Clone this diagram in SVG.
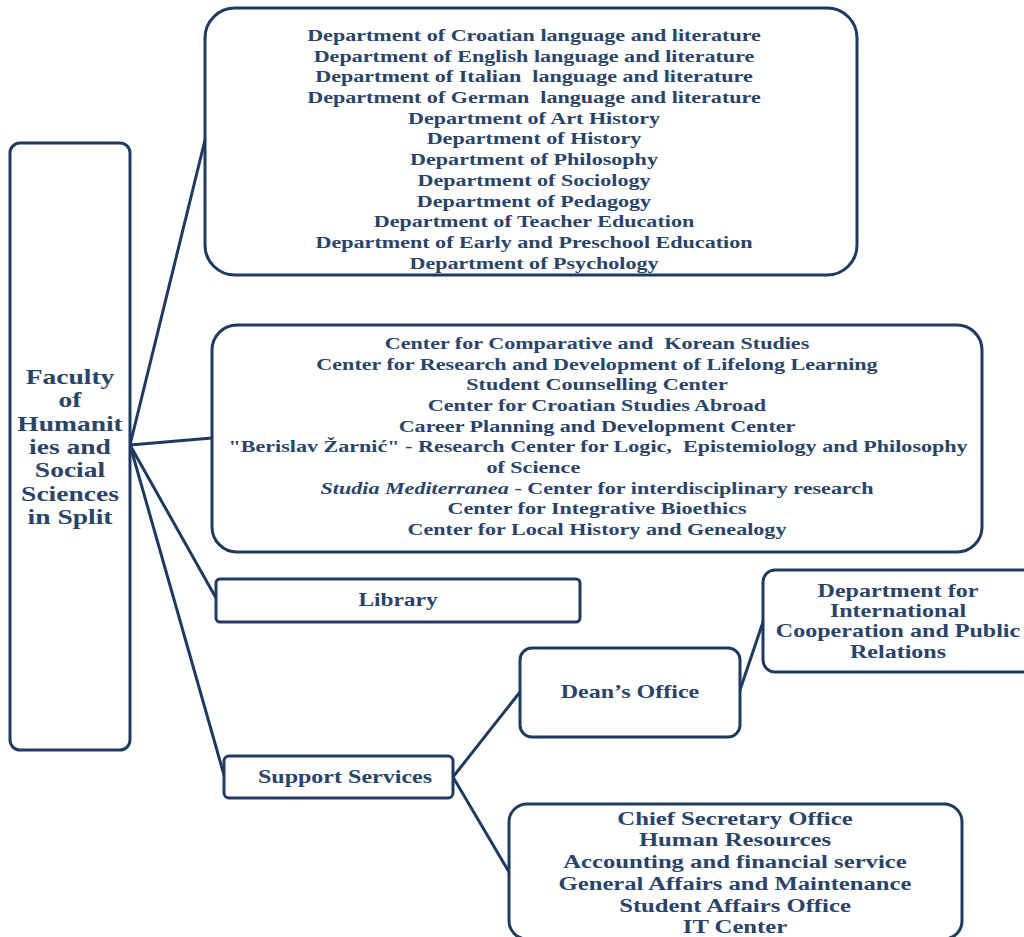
<svg xmlns="http://www.w3.org/2000/svg" width="1024" height="937" viewBox="0 0 1024 937">
<style>
.box{fill:#ffffff;stroke:#1f3a60;stroke-width:3}
.conn line{stroke:#1f3a60;stroke-width:3;stroke-linecap:round}
text{font-family:"Liberation Serif","Times New Roman",serif;font-weight:bold;fill:#2a4368;text-anchor:middle;white-space:pre}
.s17 text{font-size:17px}
.it{font-style:italic;font-weight:bold}
</style>
<rect width="1024" height="937" fill="#ffffff"/>
<g id="connectors" class="conn">
<line x1="130" y1="445" x2="205" y2="140"/>
<line x1="130" y1="445" x2="212" y2="438"/>
<line x1="130" y1="445" x2="216" y2="598"/>
<line x1="130" y1="445" x2="224" y2="775"/>
<line x1="453" y1="777" x2="520" y2="692"/>
<line x1="453" y1="777" x2="509" y2="872"/>
<line x1="740" y1="690" x2="763" y2="622"/>
</g>
<g id="faculty">
<rect class="box" x="10" y="143" width="120" height="607" rx="10"/>
<g transform="translate(70,0) scale(1.28,1)">
<text x="0" y="384" font-size="21.5">Faculty</text>
<text x="0" y="407.3" font-size="21.5">of</text>
<text x="0" y="430.7" font-size="21.5">Humanit</text>
<text x="0" y="454" font-size="21.5">ies and</text>
<text x="0" y="477.3" font-size="21.5">Social</text>
<text x="0" y="500.7" font-size="21.5">Sciences</text>
<text x="0" y="524" font-size="21.5">in Split</text>
</g>
</g>
<g id="departments">
<rect class="box" x="205" y="8" width="652" height="267" rx="30"/>
<g class="s17" transform="translate(534,0) scale(1.3,1)">
<text x="0" y="41">Department of Croatian language and literature</text>
<text x="0" y="61.7">Department of English language and literature</text>
<text x="0" y="82.4">Department of Italian  language and literature</text>
<text x="0" y="103.1">Department of German  language and literature</text>
<text x="0" y="123.8">Department of Art History</text>
<text x="0" y="144.5">Department of History</text>
<text x="0" y="165.2">Department of Philosophy</text>
<text x="0" y="185.9">Department of Sociology</text>
<text x="0" y="206.6">Department of Pedagogy</text>
<text x="0" y="227.3">Department of Teacher Education</text>
<text x="0" y="248">Department of Early and Preschool Education</text>
<text x="0" y="268.7">Department of Psychology</text>
</g>
</g>
<g id="centers">
<rect class="box" x="212" y="325" width="770" height="227" rx="25"/>
<g class="s17" transform="translate(597,0) scale(1.3,1)">
<text x="0" y="349">Center for Comparative and  Korean Studies</text>
<text x="0" y="369.7">Center for Research and Development of Lifelong Learning</text>
<text x="0" y="390.3">Student Counselling Center</text>
<text x="0" y="411">Center for Croatian Studies Abroad</text>
<text x="0" y="431.7">Career Planning and Development Center</text>
<text x="0.8" y="452.3">"Berislav Žarnić" - Research Center for Logic,  Epistemiology and Philosophy</text>
<text x="-49" y="473">of Science</text>
<text x="0" y="493.7"><tspan class="it">Studia Mediterranea</tspan> - Center for interdisciplinary research</text>
<text x="0" y="514.3">Center for Integrative Bioethics</text>
<text x="0" y="535">Center for Local History and Genealogy</text>
</g>
</g>
<g id="library">
<rect class="box" x="216" y="579" width="364" height="43" rx="4"/>
<g transform="translate(398,0) scale(1.3,1)">
<text x="0" y="606" font-size="18">Library</text>
</g>
</g>
<g id="support-services">
<rect class="box" x="224" y="756" width="229" height="42" rx="5"/>
<g transform="translate(345,0) scale(1.3,1)">
<text x="0" y="783" font-size="18.5">Support Services</text>
</g>
</g>
<g id="deans-office">
<rect class="box" x="520" y="648" width="220" height="89" rx="12"/>
<g transform="translate(630,0) scale(1.3,1)">
<text x="0" y="698" font-size="18.5">Dean’s Office</text>
</g>
</g>
<g id="international">
<rect class="box" x="763" y="570" width="290" height="102" rx="12"/>
<g transform="translate(898,0) scale(1.3,1)">
<text x="0" y="597" font-size="18.5">Department for</text>
<text x="0" y="617" font-size="18.5">International</text>
<text x="0" y="637.5" font-size="18.5">Cooperation and Public</text>
<text x="0" y="658" font-size="18.5">Relations</text>
</g>
</g>
<g id="administration">
<rect class="box" x="509" y="804" width="453" height="135" rx="18"/>
<g transform="translate(735,0) scale(1.3,1)">
<text x="0" y="825" font-size="19">Chief Secretary Office</text>
<text x="0" y="846.5" font-size="19">Human Resources</text>
<text x="0" y="868.5" font-size="19">Accounting and financial service</text>
<text x="0" y="890.5" font-size="19">General Affairs and Maintenance</text>
<text x="0" y="912" font-size="19">Student Affairs Office</text>
<text x="0" y="933" font-size="19">IT Center</text>
</g>
</g>
</svg>
